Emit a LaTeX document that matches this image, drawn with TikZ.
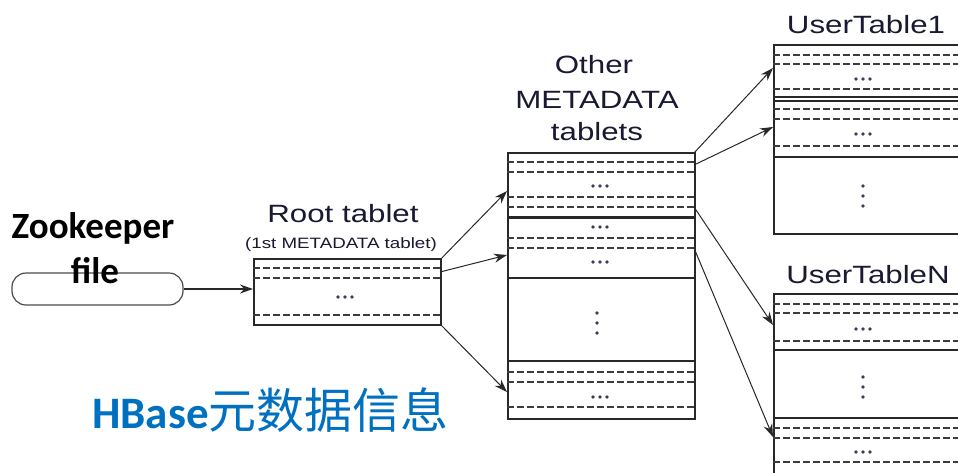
\documentclass[tikz,border=0pt]{standalone}
\usepackage{fontspec}
\setmainfont{Liberation Sans}
\newfontfamily\labfont[FakeStretch=1.25]{Liberation Sans}
\newfontfamily\calfont{Carlito}
\newfontfamily\cjkfont{Noto Sans CJK SC}
\usetikzlibrary{arrows.meta}

\definecolor{labc}{RGB}{25,25,50}
\definecolor{linec}{RGB}{40,40,40}
\definecolor{dashc}{RGB}{60,60,60}
\definecolor{dotc}{RGB}{60,60,90}
\definecolor{hbblue}{RGB}{0,112,192}

\tikzset{
  box/.style={draw=linec, line width=1.8pt, inner sep=0pt, anchor=north west},
  dl/.style={draw=dashc, line width=1.6pt, dash pattern=on 7pt off 3pt},
  sepline/.style={draw=linec, line width=1.6pt},
  arr/.style={draw=linec, line width=1pt, -{Stealth[length=13pt,width=9pt]}},
  bigarr/.style={draw=linec, line width=1.6pt, -{Stealth[length=13pt,width=9pt]}},
  lab/.style={text=labc, inner sep=0pt, anchor=base},
}
\newcommand\dsh[3]{\draw[dl] (#1,#3) -- (#2,#3);}
\newcommand\hdt[2]{\foreach \dd in {-7,0,7}{\fill[dotc] (#1+\dd,#2) circle (1.8pt);}}
\newcommand\vdt[2]{\foreach \dd in {-10,0,10}{\fill[dotc] (#1,#2+\dd) circle (1.8pt);}}

\begin{document}
\begin{tikzpicture}[x=1pt,y=-1pt]
\clip (0,0) rectangle (958,472);
\fill[white] (0,0) rectangle (958,472);

% Zookeeper file
\node[draw=gray!60!black, line width=1.2pt, rounded corners=14pt, minimum width=171pt, minimum height=32pt, inner sep=0pt] (zk) at (97.5,289) {};
\node[font=\calfont\bfseries\fontsize{37}{40}\selectfont, anchor=base, inner sep=0pt] (zkt) at (93,238) {Zookeeper};
\node[font=\calfont\bfseries\fontsize{37}{40}\selectfont, anchor=base, inner sep=0pt] (zkf) at (95,283) {file};

% Root tablet
\node[lab, font=\labfont\fontsize{25}{28}\selectfont] (rootlab) at (343,222) {Root tablet};
\node[lab, font=\labfont\fontsize{15}{17}\selectfont] (rootsub) at (341,248) {(1st METADATA tablet)};
\node[box, minimum width=187pt, minimum height=66pt] (root) at (253,258) {};
\dsh{253}{440}{268}\dsh{253}{440}{278}\dsh{253}{440}{315}
\hdt{345}{297}

% Other METADATA tablets
\node[lab, font=\labfont\fontsize{25}{28}\selectfont] (metalab1) at (594,73) {Other};
\node[lab, font=\labfont\fontsize{25}{28}\selectfont] (metalab2) at (597,108) {METADATA};
\node[lab, font=\labfont\fontsize{25}{28}\selectfont] (metalab3) at (597,140) {tablets};
\node[box, minimum width=187pt, minimum height=266pt] (meta) at (507,152) {};
\dsh{507}{694}{162}\dsh{507}{694}{172}\dsh{507}{694}{197}\dsh{507}{694}{207}
\draw[sepline, line width=3pt] (507,217) -- (694,217);
\dsh{507}{694}{238}\dsh{507}{694}{248}
\draw[sepline] (507,278) -- (694,278);
\draw[sepline] (507,361) -- (694,361);
\dsh{507}{694}{372}\dsh{507}{694}{382}\dsh{507}{694}{407}
\hdt{600}{186}\hdt{600}{227}\hdt{600}{262}\hdt{600}{397}
\vdt{597}{323}

% UserTable1
\node[lab, font=\labfont\fontsize{25}{28}\selectfont] (ut1lab) at (866,33) {UserTable1};
\node[box, minimum width=220pt, minimum height=189pt] (ut1) at (773,44) {};
\dsh{773}{990}{55}\dsh{773}{990}{64}\dsh{773}{990}{89}
\draw[sepline, line width=1.3pt] (773,97) -- (990,97);
\draw[sepline, line width=1.3pt] (773,101) -- (990,101);
\dsh{773}{990}{109}\dsh{773}{990}{119}\dsh{773}{990}{146}
\draw[sepline] (773,157) -- (990,157);
\hdt{863}{79}\hdt{863}{134}
\vdt{863}{196}

% UserTableN
\node[lab, font=\labfont\fontsize{25}{28}\selectfont] (utnlab) at (868,283) {UserTableN};
\node[box, minimum width=220pt, minimum height=220pt] (utn) at (773,293) {};
\dsh{773}{990}{304}\dsh{773}{990}{313}\dsh{773}{990}{341}
\draw[sepline] (773,350) -- (990,350);
\draw[sepline] (773,418) -- (990,418);
\dsh{773}{990}{428}\dsh{773}{990}{438}\dsh{773}{990}{462}
\hdt{863}{329}\hdt{863}{452}
\vdt{863}{387}

% connector coordinates
\coordinate (r2) at (440,272);
\coordinate (m1) at (507,191);
\coordinate (m2) at (507,255);
\coordinate (m3) at (507,392);
\coordinate (ms1) at (694,153);
\coordinate (ms2) at (694,165);
\coordinate (ms3) at (694,207);
\coordinate (ms4) at (694,248);
\coordinate (u1) at (773,68);
\coordinate (u2) at (773,127);
\coordinate (n1) at (773,325);
\coordinate (n2) at (773,437);

% connectors
\draw[bigarr] (zk.east) -- (root.west |- zk.east);
\draw[arr] (root.north east) -- (m1);
\draw[arr] (r2) -- (m2);
\draw[arr] (root.south east) -- (m3);
\draw[arr] (ms1) -- (u1);
\draw[arr] (ms2) -- (u2);
\draw[arr] (ms3) -- (n1);
\draw[arr] (ms4) -- (n2);

% title
\node[anchor=base west, inner sep=0pt, text=hbblue] (title) at (92,428) {{\calfont\bfseries\fontsize{45}{48}\selectfont HBase}{\cjkfont\fontsize{48}{52}\selectfont 元数据信息}};
\end{tikzpicture}
\end{document}
